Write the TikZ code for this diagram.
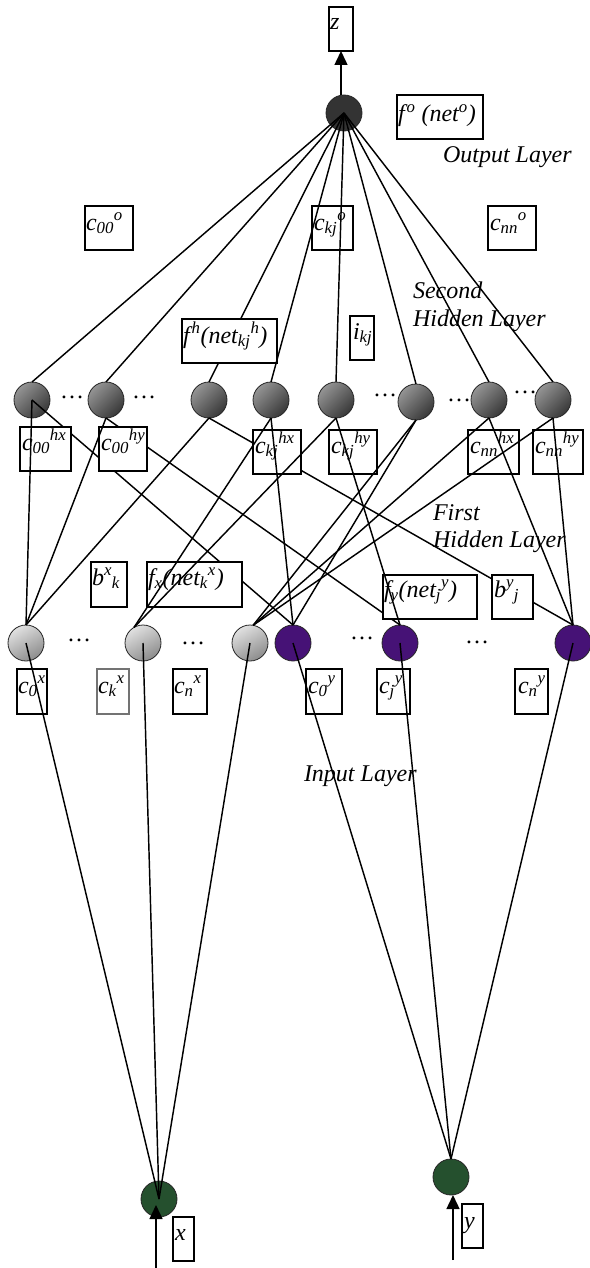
\documentclass[tikz,border=0pt]{standalone}
\usepackage{fontspec}
\setmainfont{Liberation Serif}
\usetikzlibrary{arrows.meta,calc}
\newcommand\dn[1]{\textsubscript{#1}}
\newcommand\up[1]{\textsuperscript{#1}}
\definecolor{purp}{RGB}{70,18,118}
\definecolor{grn}{RGB}{37,80,46}
\begin{document}
\begin{tikzpicture}[x=1pt,y=-1pt,
 ln/.style={line width=1.45pt},
 bx/.style={draw, line width=1.6pt, fill=white, anchor=north west, inner sep=0pt, outer sep=0pt},
 tx/.style={anchor=base west, inner sep=0pt, outer sep=0pt, font=\fontsize{24}{28}\selectfont\itshape},
 dotsn/.style={anchor=base west, inner sep=0pt, outer sep=0pt, font=\fontsize{24}{28}\selectfont},
 neuron/.style={circle, minimum size=36pt, inner sep=0pt, outer sep=0pt, draw=black!85, line width=0.8pt},
 onode/.style={neuron, fill=black!80},
 hnode/.style={neuron, top color=black!42, bottom color=black!78, shading angle=45},
 xnode/.style={neuron, top color=black!12, bottom color=black!45, shading angle=30},
 ynode/.style={neuron, fill=purp},
 gnode/.style={neuron, fill=grn},
 arr/.style={line width=1.45pt, -{Triangle[width=13pt,length=14pt]}}
]
\useasboundingbox (0,0) rectangle (589,1268);

% dots
\node[dotsn] (d1) at (60,398) {…};
\node[dotsn] (d2) at (132,398) {…};
\node[dotsn] (d3) at (373,396) {…};
\node[dotsn] (d4) at (447,401) {…};
\node[dotsn] (d5) at (513,393) {…};
\node[dotsn] (e1) at (67,641) {…};
\node[dotsn] (e2) at (181,644) {…};
\node[dotsn] (e3) at (350,639) {…};
\node[dotsn] (e4) at (465,643) {…};

% neurons
\node[onode] (out) at (344,113) {};
\node[hnode] (h1) at (32,400) {};
\node[hnode] (h2) at (106,400) {};
\node[hnode] (h3) at (209,400) {};
\node[hnode] (h4) at (271,400) {};
\node[hnode] (h5) at (336,400) {};
\node[hnode] (h6) at (416,402) {};
\node[hnode] (h7) at (489,400) {};
\node[hnode] (h8) at (553,400) {};
\node[xnode] (px1) at (26,643) {};
\node[xnode] (px2) at (143,643) {};
\node[xnode] (px3) at (250,643) {};
\node[ynode] (py0) at (293,643) {};
\node[ynode] (pyj) at (400,643) {};
\node[ynode] (pyn) at (573,643) {};
\node[gnode] (xin) at (159,1199) {};

% lines hidden behind boxes
\draw[ln] (out.center) -- (h3.north);
\draw[ln] (h1.center) -- (py0.north);
\draw[ln] (h2.south) -- (pyj.north);
\draw[ln] (h3.south) -- (pyn.north);

% boxes
\node[bx, minimum width=24pt, minimum height=44pt] (zbox) at (329,7) {};
\node[bx, minimum width=86pt, minimum height=44pt] (fo) at (397,95) {};
\node[bx, minimum width=48pt, minimum height=44pt] (c00o) at (85,206) {};
\node[bx, minimum width=41pt, minimum height=44pt] (ckjo) at (312,206) {};
\node[bx, minimum width=48pt, minimum height=44pt] (cnno) at (488,206) {};
\node[bx, minimum width=95pt, minimum height=44pt] (fh) at (182,319) {};
\node[bx, minimum width=24pt, minimum height=44pt] (ikj) at (350,316) {};
\node[bx, minimum width=51pt, minimum height=44pt] (c00hx) at (20,427) {};
\node[bx, minimum width=48pt, minimum height=44pt] (c00hy) at (99,427) {};
\node[bx, minimum width=48pt, minimum height=44pt] (ckjhx) at (253,430) {};
\node[bx, minimum width=48pt, minimum height=44pt] (ckjhy) at (329,430) {};
\node[bx, minimum width=51pt, minimum height=44pt] (cnnhx) at (468,430) {};
\node[bx, minimum width=50pt, minimum height=44pt] (cnnhy) at (533,430) {};
\node[bx, minimum width=36pt, minimum height=45pt] (bxk) at (91,562) {};
\node[bx, minimum width=95pt, minimum height=45pt] (fx) at (147,562) {};
\node[bx, minimum width=94pt, minimum height=44pt] (fy) at (383,575) {};
\node[bx, minimum width=41pt, minimum height=44pt] (byj) at (492,575) {};
\node[bx, minimum width=30pt, minimum height=45pt] (c0x) at (17,669) {};
\node[bx, draw=black!55, minimum width=32pt, minimum height=45pt] (ckx) at (97,669) {};
\node[bx, minimum width=34pt, minimum height=45pt] (cnx) at (173,669) {};
\node[bx, minimum width=36pt, minimum height=45pt] (c0y) at (306,669) {};
\node[bx, minimum width=33pt, minimum height=45pt] (cjy) at (377,669) {};
\node[bx, minimum width=33pt, minimum height=45pt] (cny) at (515,669) {};
\node[bx, minimum width=21pt, minimum height=44pt] (xbox) at (173,1217) {};
\node[bx, minimum width=21pt, minimum height=44pt] (ybox) at (462,1204) {};

% visible lines
\foreach \h in {h1,h2,h4,h5,h6,h7,h8} \draw[ln] (out.center) -- (\h.north);
\draw[ln] (h1.center) -- (px1.north);
\draw[ln] (h2.south) -- (px1.north);
\draw[ln] (h3.south) -- (px1.north);
\draw[ln] (h4.south) -- (px2.120);
\draw[ln] (h4.south) -- (py0.north);
\draw[ln] (h5.south) -- (px2.120);
\draw[ln] (h5.south) -- (pyj.north);
\draw[ln] (h6.south) -- (px3.80);
\draw[ln] (h6.south) -- (py0.north);
\draw[ln] (h7.south) -- (px3.80);
\draw[ln] (h7.south) -- (pyn.north);
\draw[ln] (h8.south) -- (px3.80);
\draw[ln] (h8.south) -- (pyn.north);
\draw[ln] (px1.center) -- (xin.center);
\draw[ln] (px2.center) -- (xin.center);
\draw[ln] (px3.center) -- (xin.center);

\node[gnode] (yin) at (451,1177) {};
\draw[ln] (py0.center) -- (yin.north);
\draw[ln] (pyj.center) -- (yin.north);
\draw[ln] (pyn.center) -- (yin.north);

% arrows
\draw[arr] (zbox.south |- out.north) -- (zbox.south);
\coordinate (xsrc) at (156,1268);
\draw[arr, shorten >=6pt] (xsrc) -- (xsrc |- xin.center);
\coordinate (ysrc) at (453,1260);
\draw[arr] (ysrc) -- (ysrc |- yin.south);

% texts
\node[tx] (tz) at (330,30) {z};
\node[tx] (tfo) at (398,122) {f\kern2pt\up{o} (net\up{o})};
\node[tx] (tol) at (443,163) {Output Layer};
\node[tx] (tc00o) at (86,230) {c\dn{00}\up{o}};
\node[tx] (tckjo) at (314,230) {c\dn{kj}\up{o}};
\node[tx] (tcnno) at (490,230) {c\dn{nn}\up{o}};
\node[tx] (tsec) at (413,298) {Second};
\node[tx] (tshl) at (413,326) {Hidden Layer};
\node[tx] (tfh) at (183,343) {f\kern2pt\up{h}(net\dn{kj}\up{h})};
\node[tx] (tikj) at (353,339) {i\dn{kj}};
\node[tx] (tc00hx) at (22,450) {c\dn{00}\up{hx}};
\node[tx] (tc00hy) at (101,450) {c\dn{00}\up{hy}};
\node[tx] (tckjhx) at (255,453) {c\dn{kj}\up{hx}};
\node[tx] (tckjhy) at (331,453) {c\dn{kj}\up{hy}};
\node[tx] (tcnnhx) at (470,453) {c\dn{nn}\up{hx}};
\node[tx] (tcnnhy) at (535,453) {c\dn{nn}\up{hy}};
\node[tx] (tfirst) at (433,520) {First};
\node[tx] (tfhl) at (433,547) {Hidden Layer};
\node[tx] (tbxk) at (92,585) {b\up{x}\dn{k}};
\node[tx] (tfx) at (148,585) {f\dn{x}(net\dn{k}\up{x})};
\node[tx] (tfy) at (384,597) {f\dn{y}(net\dn{j}\up{y})};
\node[tx] (tbyj) at (494,597) {b\up{y}\dn{j}};
\node[tx] (tc0x) at (18,693) {c\dn{0}\up{x}};
\node[tx] (tckx) at (98,693) {c\dn{k}\up{x}};
\node[tx] (tcnx) at (174,693) {c\dn{n}\up{x}};
\node[tx] (tc0y) at (308,693) {c\dn{0}\up{y}};
\node[tx] (tcjy) at (379,693) {c\dn{j}\up{y}};
\node[tx] (tcny) at (518,693) {c\dn{n}\up{y}};
\node[tx] (til) at (304,781) {Input Layer};
\node[tx] (tx) at (175,1240) {x};
\node[tx] (ty) at (464,1228) {y};
\end{tikzpicture}
\end{document}
